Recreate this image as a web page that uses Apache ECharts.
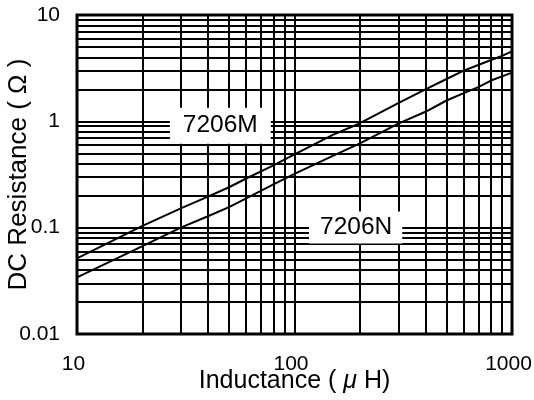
<!DOCTYPE html>
<html>
<head>
<meta charset="utf-8">
<script src="https://cdn.jsdelivr.net/npm/echarts@6/dist/echarts.min.js"></script>
<style>
html,body{margin:0;padding:0;background:#fff;}
#c{width:534px;height:400px;}
</style>
</head>
<body>
<div id="c"></div>
<script>
// Inductance (uH) sample points
const inductance = [10, 20, 30, 40, 50, 60, 80, 100, 150, 200, 300, 400, 500, 600, 700, 800, 900, 1000];
// DC resistance (ohm) for 7206M
const r7206M = [0.0515, 0.104, 0.152, 0.196, 0.24, 0.29, 0.385, 0.49, 0.745, 0.96, 1.48, 2.0, 2.5, 3.0, 3.39, 3.77, 4.12, 4.55];
// DC resistance (ohm) for 7206N
const r7206N = [0.0341, 0.067, 0.100, 0.128, 0.156, 0.189, 0.255, 0.32, 0.474, 0.62, 0.95, 1.23, 1.57, 1.84, 2.1, 2.42, 2.65, 2.87];
// grid line values
const xGridValues = [20, 30, 40, 50, 60, 70, 80, 90, 100, 200, 300, 400, 500, 600, 700, 800, 900];
const yGridValues = [0.02, 0.03, 0.04, 0.05, 0.06, 0.07, 0.08, 0.09, 0.1, 0.2, 0.3, 0.4, 0.5, 0.6, 0.7, 0.8, 0.9, 1, 2, 3, 4, 5, 6, 7, 8, 9];
const seriesNames = ['7206M', '7206N'];

const FONT = "'Liberation Sans', Arial, sans-serif";
const chart = echarts.init(document.getElementById('c'), null, {renderer: 'canvas'});

const fmt = v => String(Number(Number(v).toPrecision(3)));

const gridMarks = xGridValues.map(v => ({xAxis: v})).concat(yGridValues.map(v => ({yAxis: v})));

chart.setOption({
  animation: false,
  backgroundColor: '#fff',
  textStyle: {fontFamily: FONT, color: '#000'},
  grid: {left: 77, right: 22, top: 15, bottom: 66, containLabel: false, outerBoundsMode: 'none',
         show: true, borderColor: '#000', borderWidth: 3, backgroundColor: 'transparent'},
  xAxis: {
    type: 'log', logBase: 10, min: 10, max: 1000,
    name: '{a|Inductance ( }{b|μ}{a| H)}',
    nameLocation: 'middle', nameGap: 35, nameMoveOverlap: false,
    nameTextStyle: {rich: {a: {fontSize: 25, fontFamily: FONT, color: '#000'}, b: {fontSize: 25, fontFamily: FONT, fontStyle: 'italic', color: '#000'}}},
    axisLine: {show: false}, axisTick: {show: false}, splitLine: {show: false},
    axisLabel: {fontSize: 21, fontFamily: FONT, color: '#000', margin: 20, padding: [0, 7, 0, 0], formatter: fmt}
  },
  yAxis: {
    type: 'log', logBase: 10, min: 0.01, max: 10,
    name: 'DC Resistance ( Ω )',
    nameLocation: 'middle', nameGap: 45, nameRotate: 90, nameMoveOverlap: false,
    nameTextStyle: {fontSize: 26, fontFamily: FONT, color: '#000'},
    axisLine: {show: false}, axisTick: {show: false}, splitLine: {show: false},
    axisLabel: {fontSize: 21, fontFamily: FONT, color: '#000', margin: 17, formatter: fmt}
  },
  series: [
    {
      type: 'line', z: 1, silent: true, showSymbol: false,
      data: [[10, 0.01]], lineStyle: {width: 0},
      markLine: {
        silent: true, symbol: 'none', animation: false,
        label: {show: false},
        lineStyle: {color: '#000', width: 2, type: 'solid', opacity: 1},
        emphasis: {disabled: true},
        data: gridMarks
      }
    },
    {
      name: seriesNames[0], type: 'line', z: 3, showSymbol: false, smooth: false,
      lineStyle: {color: '#000', width: 2},
      data: inductance.map((x, i) => [x, r7206M[i]])
    },
    {
      name: seriesNames[1], type: 'line', z: 3, showSymbol: false, smooth: false,
      lineStyle: {color: '#000', width: 2},
      data: inductance.map((x, i) => [x, r7206N[i]])
    },
    {
      type: 'scatter', z: 10, silent: true, symbolSize: 0,
      itemStyle: {opacity: 1},
      emphasis: {disabled: true},
      data: [
        {value: [45.6, 0.91], label: {formatter: seriesNames[0], padding: [6, 13, 5, 13]}},
        {value: [191, 0.1005], label: {formatter: seriesNames[1], padding: [4, 10, 3, 11]}}
      ],
      label: {show: true, position: 'inside', fontSize: 24.5, fontFamily: FONT, color: '#000', backgroundColor: '#fff', opacity: 1}
    }
  ]
});
</script>
</body>
</html>
